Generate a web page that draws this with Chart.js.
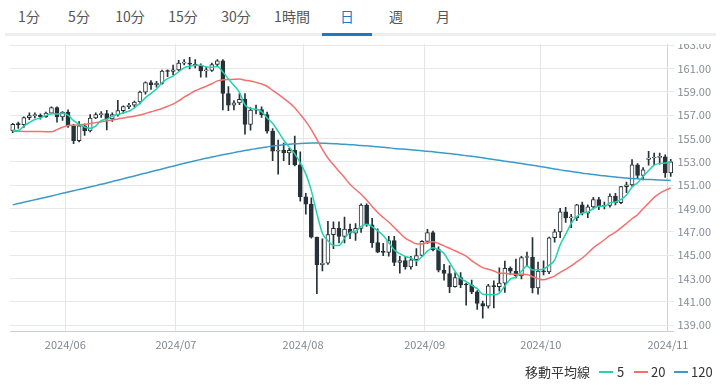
<!DOCTYPE html>
<html lang="ja">
<head>
<meta charset="utf-8">
<title>日足チャート</title>
<script src="https://cdn.jsdelivr.net/npm/chart.js@4.4.1/dist/chart.umd.min.js"></script>
<style>
  html, body { margin: 0; padding: 0; background: #fff; }
  body { width: 722px; height: 385px; position: relative; overflow: hidden;
         font-family: 'Noto Sans CJK JP', 'Noto Sans', sans-serif; }
  #tabs { position: absolute; left: 0; top: 0; width: 722px; height: 44px; background: #fff; z-index: 2; }
  #tabs span { position: absolute; top: 7px; width: 50px; margin-left: -25px; text-align: center;
               font-size: 14px; line-height: 18px; color: #555; }
  #tabs span.on { color: #1a7ac6; }
  #tabs .bar { position: absolute; left: 5px; top: 33px; width: 711px; height: 3px; background: #eeeeee; }
  #tabs .sel { position: absolute; left: 322px; top: 33px; width: 50px; height: 3px; background: #1a7ac6; }
  #wrap { position: absolute; left: 0; top: 28px; width: 722px; height: 357px; }
  #legend span { position: absolute; top: 364px; font-size: 13px; line-height: 16px; color: #333; }
  #legend i { position: absolute; top: 371px; width: 14px; height: 1.5px; }
</style>
</head>
<body>
<div id="tabs">
  <span style="left:29px">1分</span>
  <span style="left:79px">5分</span>
  <span style="left:130px">10分</span>
  <span style="left:183px">15分</span>
  <span style="left:236px">30分</span>
  <span style="left:292px">1時間</span>
  <span class="on" style="left:347px">日</span>
  <span style="left:396px">週</span>
  <span style="left:443px">月</span>
  <div class="bar"></div>
  <div class="sel"></div>
</div>
<div id="wrap"><canvas id="chart"></canvas></div>
<div id="legend">
  <span style="left:525px">移動平均線</span>
  <i style="left:599px;background:#22d3ae"></i><span style="left:617px">5</span>
  <i style="left:634px;background:#f4706f"></i><span style="left:651px">20</span>
  <i style="left:674px;background:#3b9bc8"></i><span style="left:691px">120</span>
</div>
<script>
// trading days shown
const dates = [
  '2024/05/20','2024/05/21','2024/05/22','2024/05/23','2024/05/24','2024/05/27','2024/05/28','2024/05/29','2024/05/30','2024/05/31',
  '2024/06/03','2024/06/04','2024/06/05','2024/06/06','2024/06/07','2024/06/10','2024/06/11','2024/06/12','2024/06/13','2024/06/14',
  '2024/06/17','2024/06/18','2024/06/19','2024/06/20','2024/06/21','2024/06/24','2024/06/25','2024/06/26','2024/06/27','2024/06/28',
  '2024/07/01','2024/07/02','2024/07/03','2024/07/04','2024/07/05','2024/07/08','2024/07/09','2024/07/10','2024/07/11','2024/07/12',
  '2024/07/15','2024/07/16','2024/07/17','2024/07/18','2024/07/19','2024/07/22','2024/07/23','2024/07/24','2024/07/25','2024/07/26',
  '2024/07/29','2024/07/30','2024/07/31','2024/08/01','2024/08/02','2024/08/05','2024/08/06','2024/08/07','2024/08/08','2024/08/09',
  '2024/08/12','2024/08/13','2024/08/14','2024/08/15','2024/08/16','2024/08/19','2024/08/20','2024/08/21','2024/08/22','2024/08/23',
  '2024/08/26','2024/08/27','2024/08/28','2024/08/29','2024/08/30','2024/09/02','2024/09/03','2024/09/04','2024/09/05','2024/09/06',
  '2024/09/09','2024/09/10','2024/09/11','2024/09/12','2024/09/13','2024/09/16','2024/09/17','2024/09/18','2024/09/19','2024/09/20',
  '2024/09/23','2024/09/24','2024/09/25','2024/09/26','2024/09/27','2024/09/30','2024/10/01','2024/10/02','2024/10/03','2024/10/04',
  '2024/10/07','2024/10/08','2024/10/09','2024/10/10','2024/10/11','2024/10/14','2024/10/15','2024/10/16','2024/10/17','2024/10/18',
  '2024/10/21','2024/10/22','2024/10/23','2024/10/24','2024/10/25','2024/10/28','2024/10/29','2024/10/30','2024/10/31','2024/11/01'
];

const opens = [
  155.65,156.20,156.18,156.78,156.95,156.97,156.86,157.17,157.63,156.83,
  157.25,156.06,154.81,156.08,155.64,156.75,157.04,157.13,156.66,157.04,
  157.38,157.72,157.85,158.12,158.97,159.78,159.60,159.72,160.76,160.73,
  160.87,161.45,161.46,161.37,161.22,160.78,160.82,161.33,161.65,158.85,
  157.84,158.05,158.35,156.20,157.42,157.47,157.04,155.62,153.90,153.98,
  153.76,153.98,152.73,149.98,149.36,146.54,144.18,144.30,146.75,147.28,
  146.60,147.22,146.87,147.28,149.28,147.60,146.07,145.24,145.23,146.24,
  144.36,144.53,143.99,144.60,144.96,146.17,146.93,145.47,143.71,143.42,
  142.30,143.06,142.44,142.43,141.84,140.85,140.62,142.36,142.29,142.60,
  143.86,143.61,143.21,144.79,144.81,142.19,143.63,143.56,146.48,146.99,
  148.70,148.19,148.21,149.30,148.58,149.13,149.75,149.18,149.25,150.06,
  149.50,150.86,151.02,152.73,151.83,153.20,153.32,153.37,153.42,152.03
];
const highs = [
  156.30,156.40,156.85,157.20,157.20,157.10,157.25,157.70,157.70,157.30,
  157.45,156.20,156.45,156.25,157.05,157.20,157.30,157.40,157.20,158.26,
  157.80,158.00,158.20,159.05,159.85,159.95,159.90,160.85,160.87,161.28,
  161.70,161.75,161.95,161.75,161.40,161.10,161.45,161.75,161.76,159.45,
  158.25,158.85,158.85,157.65,157.85,157.70,157.25,155.85,154.85,154.60,
  154.15,155.20,153.85,150.30,149.90,146.55,146.40,147.90,147.85,147.85,
  148.25,147.65,147.70,149.40,149.40,148.15,147.25,146.00,146.60,146.60,
  144.90,144.85,144.90,145.55,146.25,147.20,147.05,145.70,144.20,144.10,
  143.50,143.50,142.60,142.85,141.95,141.05,142.50,142.80,143.90,144.49,
  144.00,144.65,144.90,145.25,146.49,144.40,144.50,146.55,147.20,149.00,
  149.10,148.50,149.35,149.55,149.30,149.95,149.95,149.55,150.25,150.30,
  150.90,151.25,153.18,152.85,152.50,153.88,153.75,153.75,153.60,153.20
];
const lows = [
  155.50,155.85,155.95,156.60,156.75,156.65,156.80,157.10,156.38,156.55,
  155.95,154.55,154.70,155.25,155.55,156.70,156.80,155.72,156.45,156.90,
  157.15,157.55,157.70,157.95,158.80,159.20,159.40,159.65,160.30,160.45,
  160.80,161.30,160.95,161.05,160.25,160.25,160.75,161.20,157.44,157.38,
  157.45,157.90,155.37,155.70,157.10,156.80,155.45,153.10,151.94,153.10,
  152.75,152.65,149.62,148.50,146.45,141.68,143.65,144.20,145.55,146.05,
  146.05,146.40,146.25,146.95,147.45,145.65,145.20,144.95,144.90,144.10,
  143.45,143.80,143.80,144.10,144.90,146.00,145.35,143.55,142.85,141.77,
  142.25,142.20,140.71,141.70,140.35,139.58,140.45,140.46,141.90,141.80,
  143.35,143.05,142.95,144.10,141.75,141.65,143.30,143.40,146.10,146.50,
  147.80,147.35,147.95,148.45,148.20,148.95,148.90,148.95,149.10,149.30,
  149.40,150.35,150.90,151.60,151.45,152.70,152.75,152.80,151.65,151.75
];
const closes = [
  156.20,156.18,156.78,156.95,156.97,156.86,157.17,157.63,156.83,157.25,
  156.06,154.81,156.08,155.64,156.75,157.04,157.13,156.66,157.04,157.38,
  157.72,157.85,158.12,158.97,159.78,159.60,159.72,160.76,160.73,160.87,
  161.45,161.46,161.37,161.22,160.78,160.82,161.33,161.65,158.85,157.84,
  158.05,158.35,156.20,157.42,157.47,157.04,155.62,153.90,153.98,153.76,
  153.98,152.73,149.98,149.36,146.54,144.18,144.30,146.75,147.28,146.60,
  147.22,146.87,147.28,149.28,147.60,146.07,145.24,145.23,146.24,144.36,
  144.53,143.99,144.60,144.96,146.17,146.93,145.47,143.71,143.42,142.30,
  143.06,142.44,142.43,141.84,140.85,140.62,142.36,142.29,142.60,143.86,
  143.61,143.21,144.79,144.81,142.19,143.63,143.56,146.48,146.99,148.70,
  148.19,148.21,149.30,148.58,149.13,149.75,149.18,149.25,150.06,149.50,
  150.86,151.02,152.73,151.83,152.31,153.32,153.37,153.42,152.03,152.99
];

// moving averages
const ma5 = [
  155.72,155.68,156.05,156.36,156.62,156.75,156.95,157.12,157.09,157.15,
  156.99,156.52,156.21,155.97,155.87,156.06,156.53,156.64,156.92,157.05,
  157.19,157.33,157.62,158.01,158.49,158.86,159.24,159.77,160.12,160.34,
  160.71,161.05,161.18,161.27,161.26,161.13,161.10,161.16,160.69,160.10,
  159.54,158.95,157.86,157.57,157.50,157.30,156.75,156.29,155.60,154.86,
  154.25,153.67,152.89,151.96,150.52,148.56,146.87,146.23,145.81,145.82,
  146.43,146.94,147.05,147.45,147.65,147.42,147.09,146.68,146.08,145.43,
  145.12,144.87,144.74,144.49,144.85,145.33,145.63,145.45,145.14,144.37,
  143.59,142.99,142.73,142.41,142.12,141.64,141.62,141.59,141.74,142.35,
  142.94,143.11,143.61,144.06,143.72,143.73,143.80,144.13,144.57,145.87,
  146.78,147.71,148.28,148.60,148.68,148.99,149.19,149.18,149.47,149.55,
  149.77,150.14,150.83,151.19,151.75,152.24,152.71,152.85,152.89,153.03
];
const ma20 = [
  155.62,155.61,155.60,155.60,155.59,155.58,155.57,155.56,155.75,155.95,
  156.10,156.12,156.17,156.20,156.27,156.35,156.42,156.50,156.58,156.67,
  156.75,156.83,156.90,157.00,157.14,157.28,157.41,157.56,157.76,157.94,
  158.21,158.54,158.80,159.08,159.28,159.47,159.68,159.93,160.02,160.05,
  160.06,160.09,159.99,159.91,159.80,159.67,159.47,159.12,158.79,158.43,
  158.06,157.62,157.05,156.46,155.75,154.92,154.06,153.32,152.74,152.18,
  151.64,151.06,150.62,150.21,149.72,149.17,148.65,148.22,147.83,147.36,
  146.89,146.45,146.18,145.96,145.94,146.08,146.14,145.99,145.79,145.58,
  145.37,145.15,144.91,144.53,144.20,143.92,143.78,143.63,143.45,143.43,
  143.38,143.34,143.35,143.34,143.14,142.98,142.88,143.02,143.20,143.52,
  143.78,144.07,144.41,144.75,145.16,145.62,145.96,146.31,146.68,146.96,
  147.33,147.72,148.11,148.46,148.97,149.45,149.94,150.29,150.54,150.76
];
const ma120 = [
  149.30,149.41,149.52,149.63,149.74,149.85,149.96,150.07,150.18,150.29,
  150.40,150.51,150.62,150.73,150.84,150.95,151.06,151.18,151.30,151.42,
  151.54,151.66,151.78,151.90,152.02,152.14,152.26,152.38,152.50,152.62,
  152.74,152.86,152.97,153.08,153.19,153.30,153.40,153.50,153.60,153.69,
  153.78,153.87,153.96,154.04,154.12,154.20,154.27,154.34,154.40,154.45,
  154.50,154.54,154.57,154.59,154.60,154.60,154.59,154.57,154.55,154.52,
  154.49,154.46,154.43,154.40,154.36,154.32,154.28,154.23,154.19,154.14,
  154.10,154.06,154.02,153.98,153.94,153.90,153.85,153.80,153.75,153.70,
  153.64,153.58,153.52,153.46,153.40,153.33,153.26,153.19,153.12,153.05,
  152.98,152.91,152.84,152.77,152.70,152.62,152.54,152.46,152.38,152.30,
  152.23,152.16,152.09,152.02,151.96,151.90,151.84,151.79,151.74,151.69,
  151.64,151.60,151.56,151.53,151.50,151.48,151.46,151.44,151.42,151.40
];

// price grid every 1.00, labels on odd values
const priceTicks = [139,140,141,142,143,144,145,146,147,148,149,150,151,152,153,154,155,156,157,158,159,160,161,162,163];

const dark = '#263238';

function isMonthStart(i) {
  if (typeof i !== 'number' || i <= 0 || i >= dates.length) return false;
  return dates[i].slice(0, 7) !== dates[i - 1].slice(0, 7);
}

Chart.defaults.font.family = "'Noto Sans CJK JP', 'Noto Sans', sans-serif";
Chart.defaults.font.size = 11;

new Chart(document.getElementById('chart'), {
  type: 'bar',
  data: {
    labels: dates,
    datasets: [
      { type: 'line', label: '5', data: ma5, borderColor: '#22d3ae', borderWidth: 1.5,
        pointRadius: 0, cubicInterpolationMode: 'monotone', order: 0 },
      { type: 'line', label: '20', data: ma20, borderColor: '#f4706f', borderWidth: 1.5,
        pointRadius: 0, cubicInterpolationMode: 'monotone', order: 0 },
      { type: 'line', label: '120', data: ma120, borderColor: '#3b9bc8', borderWidth: 1.5,
        pointRadius: 0, cubicInterpolationMode: 'monotone', order: 0 },
      { label: 'body', data: opens.map((o, i) => [o, closes[i]]),
        backgroundColor: c => closes[c.dataIndex] >= opens[c.dataIndex] ? '#ffffff' : dark,
        borderColor: dark, borderWidth: 1, borderSkipped: false,
        barThickness: 4, minBarLength: 1, grouped: false, order: 1 },
      { label: 'wick', data: lows.map((l, i) => [l, highs[i]]),
        backgroundColor: dark, barThickness: 1, grouped: false, order: 2 }
    ]
  },
  options: {
    responsive: true,
    maintainAspectRatio: false,
    animation: false,
    layout: { padding: { left: 10, right: 0, top: 16, bottom: 24 } },
    plugins: { legend: { display: false }, tooltip: { enabled: false } },
    scales: {
      x: {
        offset: true,
        grid: {
          offset: true,
          drawTicks: false,
          color: c => {
            if (!isMonthStart(c.index)) return 'rgba(0,0,0,0)';
            return c.index === dates.length - 1 ? '#c9d3e3' : '#e6e6e6';
          }
        },
        border: { display: true, color: '#c8cedb' },
        ticks: {
          autoSkip: false, maxRotation: 0, minRotation: 0,
          padding: 7, labelOffset: -2.76, color: '#80868f',
          callback: (v, i) => isMonthStart(i) ? dates[i].slice(0, 7) : ''
        },
        afterFit: s => { s.height = 30; }
      },
      y: {
        position: 'right',
        min: 138.49,
        max: 163.09,
        afterBuildTicks: s => { s.ticks = priceTicks.map(v => ({ value: v })); },
        grid: { color: '#e8e8e8', drawTicks: false },
        border: { display: false },
        ticks: {
          padding: 4, color: '#858b95',
          callback: v => (v % 2 === 1 ? v.toFixed(2) : '')
        },
        afterFit: s => { s.width = 48.5; }
      }
    }
  }
});
</script>
</body>
</html>
